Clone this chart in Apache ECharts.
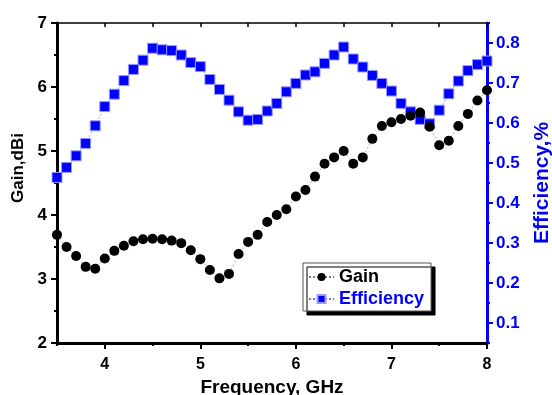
<!DOCTYPE html>
<html>
<head>
<meta charset="utf-8">
<script src="https://cdn.jsdelivr.net/npm/echarts@6/dist/echarts.min.js"></script>
<style>
  html, body { margin: 0; padding: 0; background: #fff; }
  #chart { width: 552px; height: 395px; }
</style>
</head>
<body>
<div id="chart"></div>
<script>
const freq = [3.5, 3.6, 3.7, 3.8, 3.9, 4.0, 4.1, 4.2, 4.3, 4.4, 4.5, 4.6, 4.7, 4.8, 4.9,
  5.0, 5.1, 5.2, 5.3, 5.4, 5.5, 5.6, 5.7, 5.8, 5.9, 6.0, 6.1, 6.2, 6.3, 6.4,
  6.5, 6.6, 6.7, 6.8, 6.9, 7.0, 7.1, 7.2, 7.3, 7.4, 7.5, 7.6, 7.7, 7.8, 7.9, 8.0]

const gain = [3.69, 3.50, 3.36, 3.19, 3.16, 3.32, 3.44, 3.52, 3.59, 3.62, 3.63, 3.62, 3.60, 3.56, 3.45,
  3.31, 3.14, 3.01, 3.08, 3.39, 3.58, 3.69, 3.89, 4.00, 4.09, 4.29, 4.39, 4.60, 4.80, 4.90,
  5.00, 4.80, 4.90, 5.19, 5.39, 5.45, 5.50, 5.55, 5.60, 5.38, 5.09, 5.16, 5.39, 5.58, 5.79, 5.95]

const efficiency = [0.464, 0.489, 0.518, 0.549, 0.593, 0.641, 0.672, 0.706, 0.734, 0.757, 0.787, 0.783, 0.781, 0.770, 0.751,
  0.741, 0.709, 0.684, 0.657, 0.628, 0.607, 0.609, 0.630, 0.649, 0.678, 0.699, 0.720, 0.728, 0.749, 0.770,
  0.790, 0.760, 0.740, 0.719, 0.699, 0.680, 0.649, 0.628, 0.609, 0.598, 0.632, 0.673, 0.705, 0.731, 0.746, 0.755]

const xLabels = [4, 5, 6, 7, 8]
const gainLabels = [2, 3, 4, 5, 6, 7]
const effLabels = [0.1, 0.2, 0.3, 0.4, 0.5, 0.6, 0.7, 0.8]

const FONT = 'Liberation Sans, Arial, sans-serif'
const BLUE = '#0000ff'

const chart = echarts.init(document.getElementById('chart'), null, { renderer: 'canvas' })

const pairs = (ys) => freq.map((f, i) => [f, ys[i]])

// overlay axis: only the longer major ticks, no line, no labels
const majorTicks = (base, values, color) => ({
  ...base,
  axisLine: { show: false },
  axisTick: { show: true, inside: false, length: 6, customValues: values, lineStyle: { color, width: 2 } },
  axisLabel: { show: false },
  splitLine: { show: false }
})

const option = {
  animation: false,
  backgroundColor: '#fff',
  grid: { left: 57, right: 65, top: 23, bottom: 52, outerBoundsMode: 'none' },
  legend: {
    left: 303,
    top: 263,
    orient: 'vertical',
    itemGap: 4,
    itemWidth: 25,
    itemHeight: 10,
    padding: [5, 7, 3, 5],
    backgroundColor: '#fff',
    borderColor: '#555',
    borderWidth: 1,
    shadowColor: '#000',
    shadowBlur: 0,
    shadowOffsetX: 4,
    shadowOffsetY: 4,
    textStyle: { fontFamily: FONT, fontWeight: 'bold', fontSize: 18 },
    data: [
      { name: 'Gain', textStyle: { color: '#000' } },
      { name: 'Efficiency', textStyle: { color: BLUE } }
    ]
  },
  xAxis: [
    {
      type: 'value',
      position: 'bottom',
      min: 3.5,
      max: 8,
      interval: 0.5,
      name: 'Frequency, GHz',
      nameLocation: 'middle',
      nameGap: 26,
      nameTextStyle: { fontFamily: FONT, fontWeight: 'bold', fontSize: 19, color: '#000' },
      axisLine: { lineStyle: { color: '#000', width: 3 } },
      axisTick: { show: true, inside: false, length: 3, lineStyle: { color: '#000', width: 2 } },
      axisLabel: {
        margin: 14,
        fontFamily: FONT, fontWeight: 'bold', fontSize: 16, color: '#000',
        formatter: (v) => xLabels.includes(v) ? String(v) : ''
      },
      splitLine: { show: false }
    },
    {
      type: 'value',
      position: 'top',
      min: 3.5,
      max: 8,
      interval: 0.5,
      axisLine: { lineStyle: { color: '#000', width: 1.5 } },
      axisTick: { show: true, inside: true, length: 4, lineStyle: { color: '#000', width: 1.5 } },
      axisLabel: { show: false },
      splitLine: { show: false }
    },
    majorTicks({ type: 'value', position: 'bottom', min: 3.5, max: 8 }, xLabels, '#000')
  ],
  yAxis: [
    {
      type: 'value',
      position: 'left',
      min: 2,
      max: 7,
      interval: 0.5,
      name: 'Gain,dBi',
      nameLocation: 'middle',
      nameGap: 30,
      nameTextStyle: { fontFamily: FONT, fontWeight: 'bold', fontSize: 17, color: '#000', padding: [0, 0, 0, 30] },
      axisLine: { show: true, lineStyle: { color: '#000', width: 3 } },
      axisTick: { show: true, inside: false, length: 3, lineStyle: { color: '#000', width: 2 } },
      axisLabel: {
        margin: 10,
        fontFamily: FONT, fontWeight: 'bold', fontSize: 17, color: '#000',
        formatter: (v) => gainLabels.includes(v) ? String(v) : ''
      },
      splitLine: { show: false }
    },
    {
      type: 'value',
      position: 'right',
      min: 0.05,
      max: 0.85,
      interval: 0.05,
      name: 'Efficiency,%',
      nameLocation: 'middle',
      nameGap: 45,
      nameTextStyle: { fontFamily: FONT, fontWeight: 'bold', fontSize: 21, color: BLUE },
      axisLine: { show: true, lineStyle: { color: BLUE, width: 3 } },
      axisTick: { show: true, inside: false, length: 3, lineStyle: { color: BLUE, width: 2 } },
      axisLabel: {
        margin: 9,
        fontFamily: FONT, fontWeight: 'bold', fontSize: 17, color: BLUE,
        formatter: (v) => {
          const r = Math.round(v * 100) / 100
          return effLabels.includes(r) ? r.toFixed(1) : ''
        }
      },
      splitLine: { show: false }
    },
    majorTicks({ type: 'value', position: 'left', min: 2, max: 7 }, gainLabels, '#000'),
    majorTicks({ type: 'value', position: 'right', min: 0.05, max: 0.85 }, effLabels, BLUE)
  ],
  series: [
    {
      name: 'Efficiency',
      type: 'line',
      xAxisIndex: 0,
      yAxisIndex: 1,
      symbol: 'rect',
      symbolSize: 10,
      itemStyle: { color: BLUE, borderColor: '#9a9aff', borderWidth: 1 },
      lineStyle: { color: '#6f6fff', width: 0.6, type: [2, 2] },
      data: pairs(efficiency)
    },
    {
      name: 'Gain',
      type: 'line',
      xAxisIndex: 0,
      yAxisIndex: 0,
      symbol: 'circle',
      symbolSize: 10,
      itemStyle: { color: '#000' },
      lineStyle: { color: '#777', width: 0.6, type: [2, 2] },
      data: pairs(gain)
    }
  ]
}

chart.setOption(option)
</script>
</body>
</html>
